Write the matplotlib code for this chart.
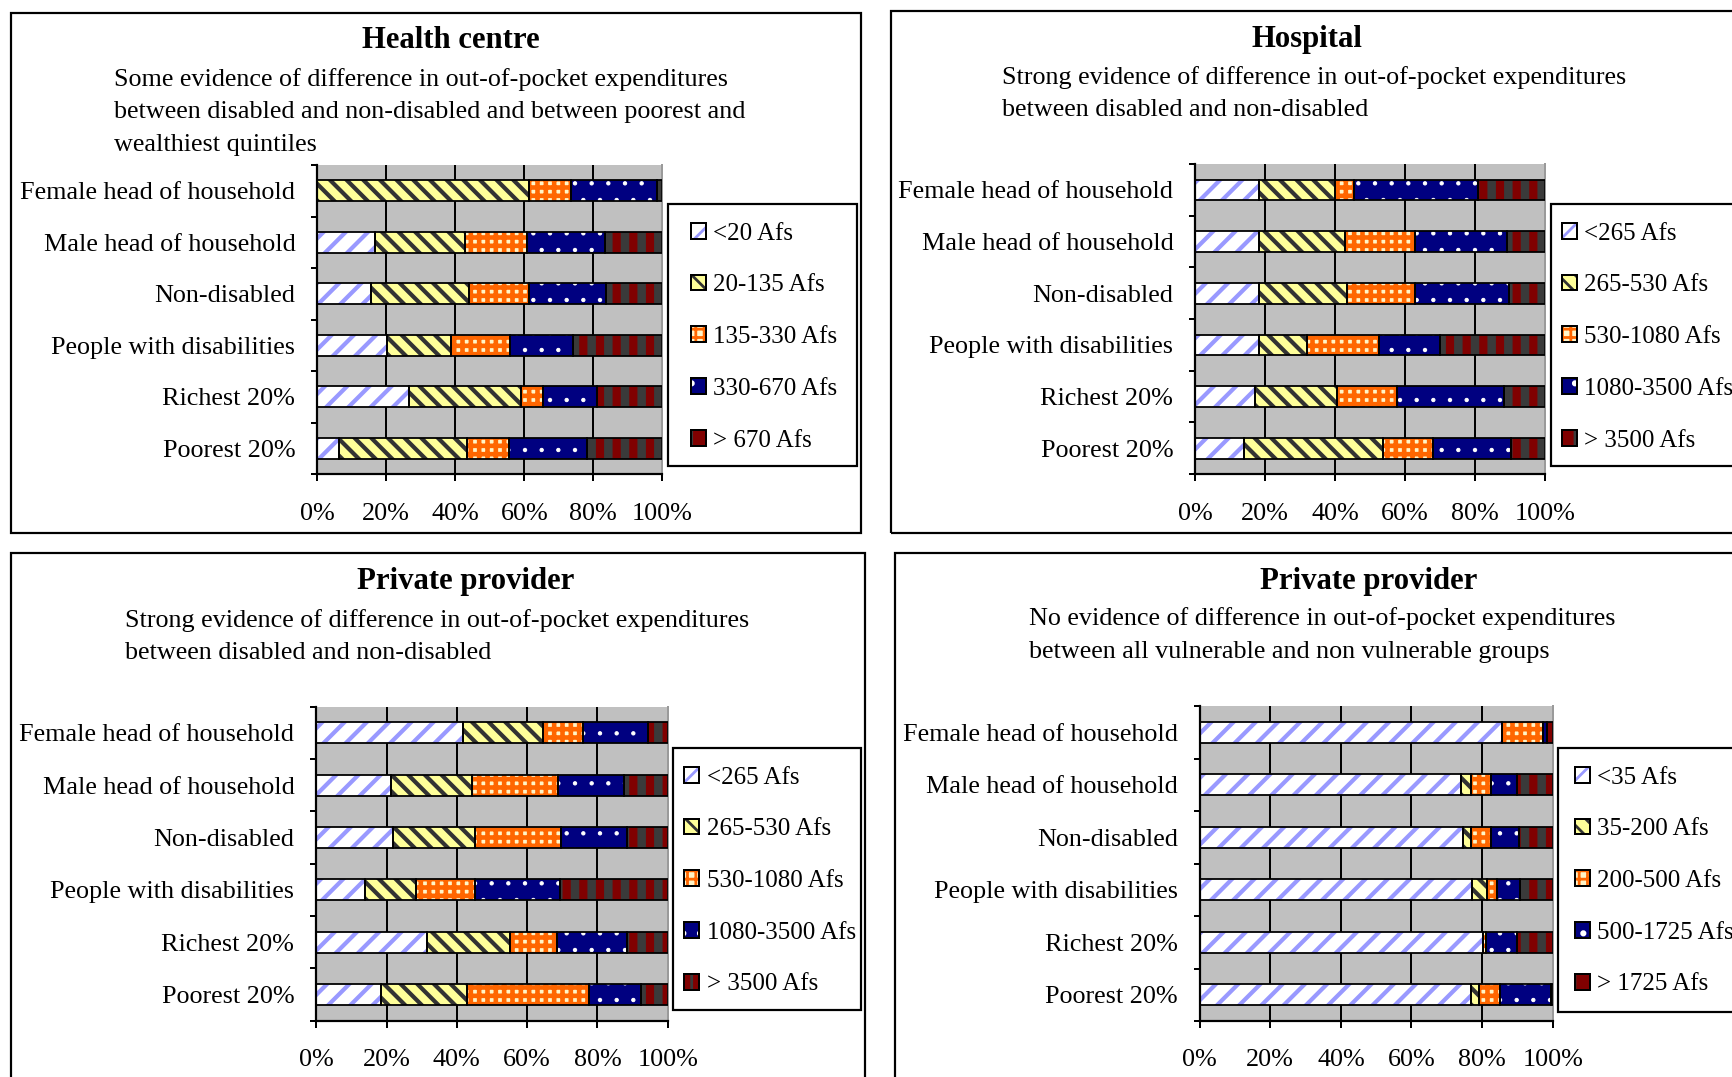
import matplotlib
matplotlib.use("Agg")
import matplotlib as mpl
import matplotlib.pyplot as plt
from matplotlib.patches import Rectangle
from matplotlib.legend_handler import HandlerTuple
from matplotlib.transforms import ScaledTranslation
import numpy as np

# ---------------------------------------------------------------- data
categories = ["Female head of household", "Male head of household", "Non-disabled",
              "People with disabilities", "Richest 20%", "Poorest 20%"]
xticks = [0, 20, 40, 60, 80, 100]
xticklabels = ["0%", "20%", "40%", "60%", "80%", "100%"]

# each inner list: one expenditure band, values (%) per category in the order above
health_centre_bands = ["<20 Afs", "20-135 Afs", "135-330 Afs", "330-670 Afs", "> 670 Afs"]
health_centre = [
    [0.0, 16.6, 15.6, 20.1, 26.6, 6.3],
    [61.3, 26.3, 28.5, 18.6, 32.5, 37.0],
    [12.2, 17.8, 17.2, 17.3, 6.2, 12.3],
    [24.9, 22.6, 22.5, 18.1, 15.7, 22.6],
    [1.6, 16.7, 16.2, 25.9, 19.0, 21.8],
]

hospital_bands = ["<265 Afs", "265-530 Afs", "530-1080 Afs", "1080-3500 Afs", "> 3500 Afs"]
hospital = [
    [18.1, 18.1, 18.1, 18.1, 17.0, 14.0],
    [21.9, 24.6, 25.2, 13.9, 23.5, 39.7],
    [5.5, 20.1, 19.5, 20.5, 17.2, 14.2],
    [35.4, 26.2, 27.0, 17.6, 30.5, 22.4],
    [19.1, 11.0, 10.2, 29.9, 11.8, 9.7],
]

private_a_bands = ["<265 Afs", "265-530 Afs", "530-1080 Afs", "1080-3500 Afs", "> 3500 Afs"]
private_a = [
    [41.8, 21.2, 21.7, 13.8, 31.4, 18.5],
    [22.8, 23.1, 23.5, 14.5, 23.7, 24.5],
    [11.4, 24.4, 24.3, 16.8, 13.5, 34.6],
    [18.3, 18.8, 18.8, 24.2, 19.7, 14.7],
    [5.7, 12.5, 11.7, 30.7, 11.7, 7.7],
]

private_b_bands = ["<35 Afs", "35-200 Afs", "200-500 Afs", "500-1725 Afs", "> 1725 Afs"]
private_b = [
    [85.7, 74.0, 74.6, 77.2, 80.2, 76.9],
    [0.0, 2.8, 2.3, 4.1, 0.0, 2.3],
    [11.5, 5.6, 5.6, 2.8, 0.9, 5.9],
    [1.2, 7.5, 8.0, 6.7, 8.8, 14.3],
    [1.6, 10.1, 9.5, 9.2, 10.1, 0.6],
]

titles = ["Health centre", "Hospital", "Private provider", "Private provider"]
subtitles = [
    ["Some evidence of difference in out-of-pocket expenditures",
     "between disabled and non-disabled and between poorest and",
     "wealthiest quintiles"],
    ["Strong evidence of difference in out-of-pocket expenditures",
     "between disabled and non-disabled"],
    ["Strong evidence of difference in out-of-pocket expenditures",
     "between disabled and non-disabled"],
    ["No evidence of difference in out-of-pocket expenditures",
     "between all vulnerable and non vulnerable groups"],
]

# ---------------------------------------------------------------- layout helpers
W, H, DPI = 1733, 1077, 200
PT = 72.0 / DPI           # points per output pixel


def fx(x):
    return x / W


def fy(y):
    return 1.0 - y / H


mpl.rcParams["font.family"] = ["Liberation Serif", "DejaVu Serif"]
FS = 26.2 * PT
LFS = 25.0 * PT
TFS = 30.8 * PT

# fill patterns for the five bands
styles = [
    dict(face="#FFFFFF", hatch="///", hcolor="#9999FF", hlw=4.2),
    dict(face="#FFFF99", hatch="\\\\\\\\", hcolor="#333333", hlw=4.2),
    dict(face="#FFF5C8", hatch="++++", hcolor="#FF6600", hlw=4.6),
    dict(face="#000080", hatch="..", hcolor="#FFFFFF", hlw=1.0),
    dict(face="#800000", hatch="||", hcolor="#3A3A3A", hlw=8.5),
]


def set_hatch_lw(patch, lw_px):
    lw = lw_px * PT
    if hasattr(patch, "set_hatch_linewidth"):
        patch.set_hatch_linewidth(lw)
    else:
        orig = patch.draw

        def draw(renderer, _orig=orig, _lw=lw):
            with mpl.rc_context({"hatch.linewidth": _lw}):
                _orig(renderer)
        patch.draw = draw


panels = [
    dict(data=health_centre, bands=health_centre_bands, ax=(317.3, 165, 662.3, 474),
         frame=(11, 13, 861, 533), title=(451, 41), sub=(114, [80, 112, 145]),
         legend=(668, 204, 857, 466), lpad=24),
    dict(data=hospital, bands=hospital_bands, ax=(1195.3, 164, 1545, 474),
         frame=(891, 11, 1760, 533), title=(1307, 39), sub=(1002, [78, 110]),
         legend=(1551, 204, 1760, 466), lpad=11.6),
    dict(data=private_a, bands=private_a_bands, ax=(316.3, 706.7, 667.7, 1020.5),
         frame=(11, 553, 865, 1100), title=(466, 582), sub=(125, [621, 653]),
         legend=(673, 748, 861, 1010), lpad=12.5),
    dict(data=private_b, bands=private_b_bands, ax=(1199.7, 706, 1552.7, 1021),
         frame=(895, 553, 1760, 1100), title=(1369, 582), sub=(1029, [619, 652]),
         legend=(1558, 748, 1760, 1012), lpad=17.7),
]

fig = plt.figure(figsize=(W / DPI, H / DPI), dpi=DPI, facecolor="white")
label_shift = ScaledTranslation(0, -2.0 / DPI, fig.dpi_scale_trans)

for i, pn in enumerate(panels):
    # outer box of the panel
    x0, y0, x1, y1 = pn["frame"]
    fig.add_artist(Rectangle((fx(x0), fy(y1)), fx(x1) - fx(x0), fy(y0) - fy(y1),
                             transform=fig.transFigure, fill=False,
                             edgecolor="black", linewidth=2.2 * PT, zorder=0))

    # title and explanatory note
    tx, ty = pn["title"]
    fig.text(fx(tx), fy(ty), titles[i], ha="center", va="center",
             fontsize=TFS, fontweight="bold")
    sx, sys_ = pn["sub"]
    for line, yy in zip(subtitles[i], sys_):
        fig.text(fx(sx), fy(yy), line, ha="left", va="center", fontsize=FS)

    # stacked 100% bars
    ax0, ay0, ax1, ay1 = pn["ax"]
    ax = fig.add_axes([fx(ax0), fy(ay1), fx(ax1) - fx(ax0), fy(ay0) - fy(ay1)])
    ax.set_facecolor("#C0C0C0")
    ypos = np.arange(len(categories))
    left = np.zeros(len(categories))
    handles = []
    for vals, st in zip(pn["data"], styles):
        vals = np.asarray(vals, dtype=float)
        filled = ax.barh(ypos, vals, left=left, height=0.4, color=st["face"],
                         edgecolor=st["hcolor"], hatch=st["hatch"], linewidth=0,
                         zorder=2)
        for p in filled:
            set_hatch_lw(p, st["hlw"])
        ax.barh(ypos, vals, left=left, height=0.4, fill=False,
                edgecolor="black", linewidth=1.8 * PT, zorder=3)
        left += vals
        hp = Rectangle((0, 0), 1, 1, facecolor=st["face"], edgecolor=st["hcolor"],
                       hatch=st["hatch"], linewidth=0)
        set_hatch_lw(hp, st["hlw"] * 0.6)
        ep = Rectangle((0, 0), 1, 1, fill=False, edgecolor="black",
                       linewidth=2.0 * PT)
        handles.append((hp, ep))

    ax.set_xlim(0, 100)
    ax.set_ylim(len(categories) - 0.5, -0.5)
    ax.set_xticks(xticks)
    ax.set_xticklabels(xticklabels, fontsize=FS)
    ax.set_yticks(ypos)
    ax.set_yticklabels(categories, fontsize=FS)
    for lab in ax.get_yticklabels():
        lab.set_transform(lab.get_transform() + label_shift)
    ax.set_yticks(np.arange(len(categories) + 1) - 0.5, minor=True)
    ax.tick_params(axis="y", which="major", length=0, pad=22 * PT)
    ax.tick_params(axis="y", which="minor", length=6 * PT, width=2 * PT,
                   direction="out", color="black")
    ax.tick_params(axis="x", which="major", length=7 * PT, width=2 * PT,
                   direction="out", pad=21.5 * PT)
    ax.xaxis.grid(True, color="black", linewidth=2 * PT)
    ax.set_axisbelow(True)
    for side in ("left", "bottom"):
        ax.spines[side].set_color("black")
        ax.spines[side].set_linewidth(2.2 * PT)
    ax.spines["top"].set_visible(False)
    ax.spines["right"].set_color("#9A9A9A")
    ax.spines["right"].set_linewidth(2 * PT)

    # legend with its own box
    lx0, ly0, lx1, ly1 = pn["legend"]
    fig.add_artist(Rectangle((fx(lx0), fy(ly1)), fx(lx1) - fx(lx0), fy(ly0) - fy(ly1),
                             transform=fig.transFigure, facecolor="white",
                             edgecolor="black", linewidth=2.2 * PT, zorder=1))
    leg = fig.legend(handles, pn["bands"], loc="upper left",
                     bbox_to_anchor=(fx(lx0 + pn["lpad"] - 1), fy(ly0 + 18.5)),
                     bbox_transform=fig.transFigure, frameon=False,
                     borderpad=0, borderaxespad=0, fontsize=LFS,
                     handlelength=0.6, handleheight=0.6, handletextpad=0.29,
                     labelspacing=1.19,
                     handler_map={tuple: HandlerTuple(ndivide=1, pad=0)})
    leg.set_zorder(2)

fig.savefig("out.png", dpi=DPI, facecolor="white")
